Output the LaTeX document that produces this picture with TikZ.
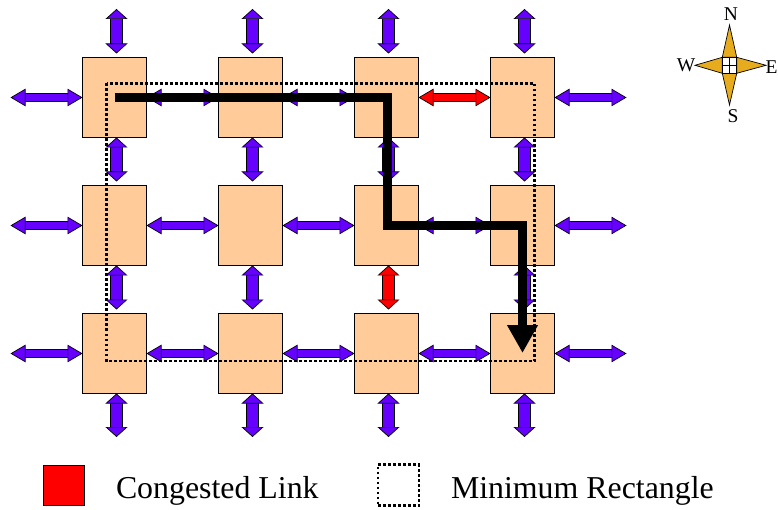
\documentclass[tikz,border=0pt]{standalone}
\usepackage{fontspec}
\setmainfont{Liberation Serif}
\usetikzlibrary{arrows.meta,positioning}
\definecolor{boxfill}{HTML}{FFCC99}
\definecolor{linkpurple}{HTML}{6600FF}
\definecolor{gold}{HTML}{E6AC1E}
\tikzset{
  router/.style={draw=black,line width=.7pt,fill=boxfill,minimum width=64pt,minimum height=80pt,inner sep=0pt,outer sep=0pt},
  hbase/.style={line width=.7pt,double=#1,double distance=7.8pt,
    {Triangle[length=15pt,width=17.5pt,fill=#1,sep=0pt]}-{Triangle[length=15pt,width=17.5pt,fill=#1,sep=0pt]}},
  vbase/.style={line width=.7pt,double=#1,double distance=11pt,
    {Triangle[length=10pt,width=22pt,fill=#1,sep=0pt]}-{Triangle[length=10pt,width=22pt,fill=#1,sep=0pt]},shorten >=4pt},
  hlink/.style={hbase=linkpurple},
  vlink/.style={vbase=linkpurple},
  hred/.style={hbase=red},
  vred/.style={vbase=red},
  route/.style={line width=9pt,line join=miter,-{Triangle[length=28pt,width=29pt,sep=0pt]}},
  minrect/.style={line width=2.7pt,dash pattern=on 2.6pt off 2.4pt},
  txt/.style={inner sep=0pt,outer sep=0pt,font=\fontsize{31.85pt}{36pt}\selectfont,anchor=base west},
  compasslabel/.style={inner sep=0pt,outer sep=0pt,font=\fontsize{19.5pt}{22pt}\selectfont},
  compasspt/.style={fill=gold,draw=black,line width=.7pt,line join=miter},
}
\begin{document}
\begin{tikzpicture}[x=1pt,y=-1pt]
\useasboundingbox (0,0) rectangle (778,510);
% routers
\foreach \r/\yy in {1/97.5,2/225.5,3/353.5}
  \foreach \c/\xx in {1/114.5,2/250.5,3/386.5,4/522.5}
    \node[router] (n\r\c) at (\xx,\yy) {};
% free ends
\foreach \c/\xx in {1/116.5,2/252.5,3/388.5,4/524.5} {
  \coordinate (t\c) at (\xx,9);
  \coordinate (b\c) at (\xx,441);
}
\foreach \r/\yy in {1/97.5,2/225.5,3/353.5} {
  \coordinate (l\r) at (10.5,\yy);
  \coordinate (r\r) at (626.5,\yy);
}
% horizontal links
\foreach \r in {1,2,3} {
  \draw[hlink] (l\r) -- (n\r1.west);
  \draw[hlink] (n\r4.east) -- (r\r);
  \draw[hlink] (n\r1.east) -- (n\r2.west);
  \draw[hlink] (n\r2.east) -- (n\r3.west);
}
\draw[hred] (n13.east) -- (n14.west);
\draw[hlink] (n23.east) -- (n24.west);
\draw[hlink] (n33.east) -- (n34.west);
% vertical links
\foreach \c in {1,2,3,4} {
  \draw[vlink] (t\c) -- ([xshift=2pt]n1\c.north);
  \draw[vlink] ([xshift=2pt]n3\c.south) -- (b\c);
  \draw[vlink] ([xshift=2pt]n1\c.south) -- ([xshift=2pt]n2\c.north);
}
\foreach \c in {1,2,4}
  \draw[vlink] ([xshift=2pt]n2\c.south) -- ([xshift=2pt]n3\c.north);
\draw[vred] ([xshift=2pt]n23.south) -- ([xshift=2pt]n33.north);
% route and rectangle
\coordinate (tip) at (522.5,353);
\draw[route] (n11.center) -- ([xshift=.5pt]n13.center) -- ([xshift=.5pt]n23.center) -- (n24.center) -- (tip);
\draw[minrect] (106.5,83.5) rectangle (534.5,361);
% compass
\coordinate (cc) at (729.5,65.3);
\coordinate (cN) at (729.5,25);
\coordinate (cS) at (729.5,105);
\coordinate (cW) at (695,65.3);
\coordinate (cE) at (766,65.3);
\coordinate (c1) at (722.3,57.3);
\coordinate (c2) at (736.7,57.3);
\coordinate (c3) at (736.7,73.3);
\coordinate (c4) at (722.3,73.3);
\draw[compasspt] (cN) -- (c2) -- (c1) -- cycle;
\draw[compasspt] (cE) -- (c3) -- (c2) -- cycle;
\draw[compasspt] (cS) -- (c4) -- (c3) -- cycle;
\draw[compasspt] (cW) -- (c1) -- (c4) -- cycle;
\draw[fill=white,line width=.9pt] (c1) rectangle (c3);
\draw[line width=.9pt] (cc |- c1) -- (cc |- c3) (cc -| c1) -- (cc -| c3);
\node[compasslabel] (lN) at (731,14.5) {N};
\node[compasslabel] (lS) at (733,116) {S};
\node[compasslabel] (lW) at (686,65.5) {W};
\node[compasslabel] (lE) at (771.5,67) {E};
% legend
\node[draw=black,line width=.7pt,fill=red,minimum width=40.5pt,minimum height=40.5pt,inner sep=0pt] (lg1) at (64,485.5) {};
\node[txt] (lt1) at (116,498) {Congested Link};
\node[draw=black,minrect,minimum width=41pt,minimum height=41pt,inner sep=0pt] (lg2) at (398.5,485) {};
\node[txt] (lt2) at (451,498) {Minimum Rectangle};
\end{tikzpicture}
\end{document}
